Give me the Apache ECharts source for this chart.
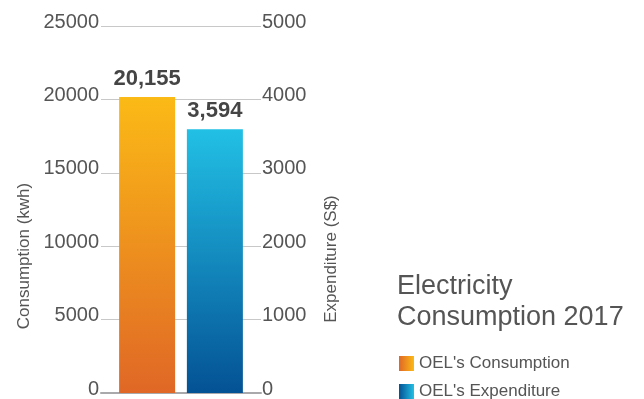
<!DOCTYPE html>
<html>
<head>
<meta charset="utf-8">
<script src="https://cdn.jsdelivr.net/npm/echarts@6/dist/echarts.min.js"></script>
<style>
html,body{margin:0;padding:0;background:#fff;}
#c{width:644px;height:399px;}
</style>
</head>
<body>
<div id="c"></div>
<script>
var categories = ['2017'];
var consumptionValues = [20155];
var expenditureValues = [3594];
var seriesNames = ["OEL's Consumption", "OEL's Expenditure"];
var titleText = 'Electricity\nConsumption 2017';
var leftAxisName = 'Consumption (kwh)';
var rightAxisName = 'Expenditure (S$)';

var FONT = '"Liberation Sans", Arial, Helvetica, sans-serif';
function grad(x2, y2, stops) {
  return new echarts.graphic.LinearGradient(0, 0, x2, y2, stops.map(function (c, i) {
    return { offset: i / (stops.length - 1), color: c };
  }));
}
var orangeV = grad(0, 1, ['#FBBA16', '#E06726']);
var blueV = grad(0, 1, ['#22C0E5', '#045294']);
var orangeH = grad(1, 0, ['#E06726', '#FBBA16']);
var blueH = grad(1, 0, ['#045294', '#22C0E5']);

var chart = echarts.init(document.getElementById('c'), null, { renderer: 'canvas' });
var labelStyle = {
  show: true, position: 'top', distance: 7,
  fontFamily: FONT, fontSize: 22, fontWeight: 'bold', color: '#454545',
  formatter: function (p) { return p.value.toLocaleString('en-US'); }
};
var axisLabelCommon = {
  fontFamily: FONT, fontSize: 20, color: '#555',
  verticalAlign: 'bottom', lineHeight: 8,
  formatter: function (v) { return String(v); }
};
function legendCfg(i, top, color) {
  return {
    left: 394, top: top,
    itemWidth: 15, itemHeight: 15, icon: 'rect',
    textStyle: { fontFamily: FONT, fontSize: 17, color: '#555' },
    data: [{ name: seriesNames[i], itemStyle: { color: color } }]
  };
}
chart.setOption({
  animation: false,
  textStyle: { fontFamily: FONT },
  title: {
    text: titleText, left: 392, top: 266,
    textStyle: { fontFamily: FONT, fontSize: 27, fontWeight: 'normal', color: '#555', lineHeight: 31 }
  },
  legend: [legendCfg(0, 350, orangeH), legendCfg(1, 378, blueH)],
  grid: { left: 101, right: 383, top: 26, bottom: 6, containLabel: false },
  xAxis: {
    type: 'category', data: categories,
    axisLine: { show: true, lineStyle: { color: '#A9A9AB', width: 2 } },
    axisTick: { show: false }, axisLabel: { show: false }
  },
  yAxis: [
    {
      type: 'value', min: 0, max: 25000, interval: 5000,
      axisLine: { show: false }, axisTick: { show: false },
      axisLabel: Object.assign({ margin: 2 }, axisLabelCommon),
      splitLine: { show: true, lineStyle: { color: '#C8C8C8', width: 1 } }
    },
    {
      type: 'value', min: 0, max: 5000, interval: 1000, position: 'right',
      axisLine: { show: false }, axisTick: { show: false },
      axisLabel: Object.assign({ margin: 1 }, axisLabelCommon),
      splitLine: { show: false }
    }
  ],
  graphic: [
    {
      type: 'text', x: 24, y: 256, rotation: Math.PI / 2,
      style: { text: leftAxisName, fontFamily: FONT, fontSize: 17, fill: '#555', align: 'center', verticalAlign: 'middle' }
    },
    {
      type: 'text', x: 331, y: 259, rotation: Math.PI / 2,
      style: { text: rightAxisName, fontFamily: FONT, fontSize: 17, fill: '#555', align: 'center', verticalAlign: 'middle' }
    }
  ],
  series: [
    {
      name: seriesNames[0], type: 'bar', yAxisIndex: 0, data: consumptionValues,
      barWidth: 56, barGap: '21%',
      itemStyle: { color: orangeV }, label: labelStyle
    },
    {
      name: seriesNames[1], type: 'bar', yAxisIndex: 1, data: expenditureValues,
      barWidth: 56, barGap: '21%',
      itemStyle: { color: blueV }, label: labelStyle
    }
  ]
});
</script>
</body>
</html>
